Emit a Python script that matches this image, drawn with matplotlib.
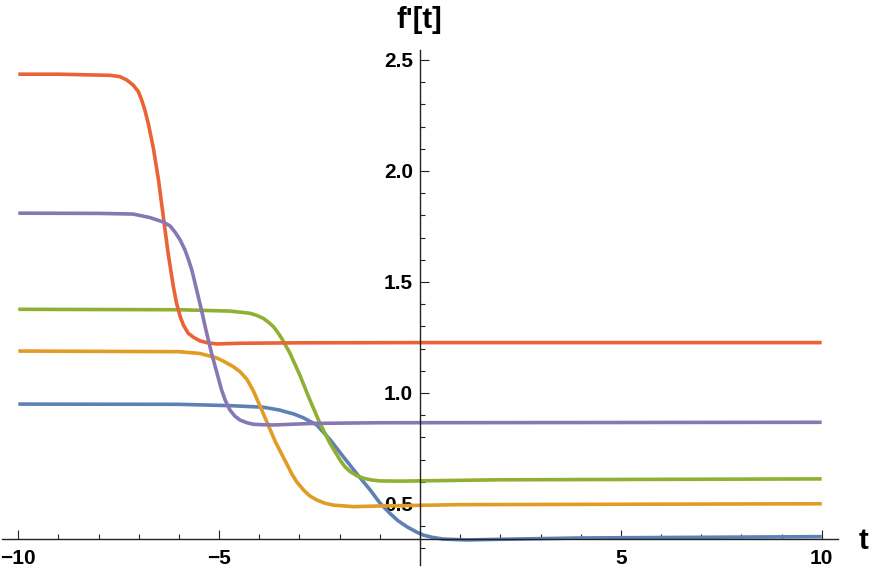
import matplotlib
matplotlib.use("Agg")
import matplotlib.pyplot as plt
import numpy as np

# values (t, f'[t]) for each curve
t_blue = [-10, -6, -4.73, -3.9, -3.49, -3.32, -3.15, -2.9, -2.57, -2.24, -1.91, -1.58,
          -1.24, -1.0, -0.75, -0.55, -0.33, -0.1, 0.08, 0.3, 0.58, 1.16, 2, 4, 10]
v_blue = [0.950, 0.949, 0.943, 0.936, 0.923, 0.914, 0.906, 0.888, 0.856, 0.79, 0.713, 0.638,
          0.563, 0.505, 0.458, 0.425, 0.398, 0.375, 0.360, 0.350, 0.342, 0.338, 0.341, 0.347, 0.353]

t_yellow = [-10, -6, -5.48, -5.06, -4.9, -4.65, -4.48, -4.31, -4.15, -3.98, -3.78, -3.6, -3.4,
            -3.19, -3.07, -2.9, -2.74, -2.57, -2.36, -2.16, -1.66, -1.0, 1, 10]
v_yellow = [1.189, 1.186, 1.178, 1.158, 1.144, 1.119, 1.096, 1.062, 1.01, 0.94, 0.856, 0.78, 0.71,
            0.635, 0.60, 0.563, 0.536, 0.518, 0.503, 0.495, 0.488, 0.491, 0.497, 0.501]

t_green = [-10, -6, -4.73, -4.23, -4.07, -3.9, -3.78, -3.65, -3.55, -3.44, -3.24, -2.99, -2.74,
           -2.49, -2.24, -1.99, -1.87, -1.74, -1.58, -1.41, -1.2, -1.0, -0.5, 2, 10]
v_green = [1.377, 1.375, 1.369, 1.359, 1.35, 1.336, 1.32, 1.299, 1.275, 1.245, 1.18, 1.08, 0.968,
           0.863, 0.773, 0.698, 0.668, 0.646, 0.628, 0.616, 0.608, 0.604, 0.603, 0.609, 0.613]

t_red = [-10, -9, -8, -7.72, -7.47, -7.3, -7.14, -7.01, -6.93, -6.85, -6.76, -6.64, -6.51,
         -6.39, -6.27, -6.14, -6.06, -5.97, -5.89, -5.77, -5.64, -5.48, -5.31, -5.06, -4.48,
         -3, 0, 10]
v_red = [2.436, 2.436, 2.432, 2.431, 2.425, 2.41, 2.387, 2.357, 2.32, 2.275, 2.21, 2.105, 1.96,
         1.794, 1.629, 1.479, 1.404, 1.344, 1.306, 1.269, 1.251, 1.235, 1.227, 1.221, 1.224,
         1.226, 1.227, 1.227]

t_purple = [-10, -8, -7.14, -6.72, -6.39, -6.22, -6.1, -5.97, -5.85, -5.77, -5.68, -5.6, -5.52,
            -5.43, -5.35, -5.27, -5.19, -5.1, -4.94, -4.85, -4.73, -4.61, -4.48, -4.31, -4.15,
            -3.9, -3.65, -2.66, -1.0, 10]
v_purple = [1.810, 1.809, 1.806, 1.790, 1.770, 1.752, 1.725, 1.689, 1.644, 1.604, 1.554, 1.494,
            1.434, 1.366, 1.30, 1.239, 1.18, 1.12, 1.014, 0.968, 0.923, 0.896, 0.878, 0.866,
            0.859, 0.857, 0.856, 0.863, 0.866, 0.868]

x_major = [-10, -5, 5, 10]
x_labels = ["\u221210", "\u22125", "5", "10"]
y_major = [0.5, 1.0, 1.5, 2.0, 2.5]
y_labels = ["0.5", "1.0", "1.5", "2.0", "2.5"]

series = [(t_blue, v_blue, "#5E81B5"),
          (t_yellow, v_yellow, "#E19C24"),
          (t_green, v_green, "#8FB032"),
          (t_red, v_red, "#EB6235"),
          (t_purple, v_purple, "#8778B3")]

plt.rcParams['font.family'] = ['Liberation Sans', 'DejaVu Sans']

fig = plt.figure(figsize=(8.72, 5.70), dpi=100)
ax = fig.add_axes([2 / 872, 5 / 570, 836 / 872, 515 / 570])

for t, v, c in series:
    ax.plot(t, v, color=c, lw=2.6, solid_capstyle='butt', solid_joinstyle='round')

ax.set_xlim(-10.406, 10.406)
ax.set_ylim(0.2252, 2.545)

axis_col = "#222222"
ax.spines['top'].set_visible(False)
ax.spines['right'].set_visible(False)
ax.spines['left'].set_position(('data', 0))
ax.spines['bottom'].set_position(('data', 0.341))
for s in ('left', 'bottom'):
    ax.spines[s].set_color(axis_col)
    ax.spines[s].set_linewidth(1.0)

ax.set_xticks(x_major)
ax.set_xticklabels(x_labels)
ax.set_xticks(np.arange(-10, 11, 1), minor=True)
ax.set_yticks(y_major)
ax.set_yticklabels(y_labels)
ax.set_yticks(np.arange(0.3, 2.55, 0.1), minor=True)

ax.tick_params(which='both', direction='in', color=axis_col, width=0.8)
ax.tick_params(which='major', length=6.5)
ax.tick_params(which='minor', length=3.6)
ax.tick_params(axis='x', which='major', pad=7, labelsize=15)
ax.tick_params(axis='y', which='major', pad=5, labelsize=15)
for lab in ax.get_xticklabels() + ax.get_yticklabels():
    lab.set_fontweight('bold')

fig.text(419 / 872, 1 - 20 / 570, "f'[t]", fontsize=21, fontweight='bold',
         ha='center', va='center')
fig.text(863 / 872, 1 - 541 / 570, "t", fontsize=21, fontweight='bold',
         ha='center', va='center')

fig.savefig("out.png", dpi=100)
